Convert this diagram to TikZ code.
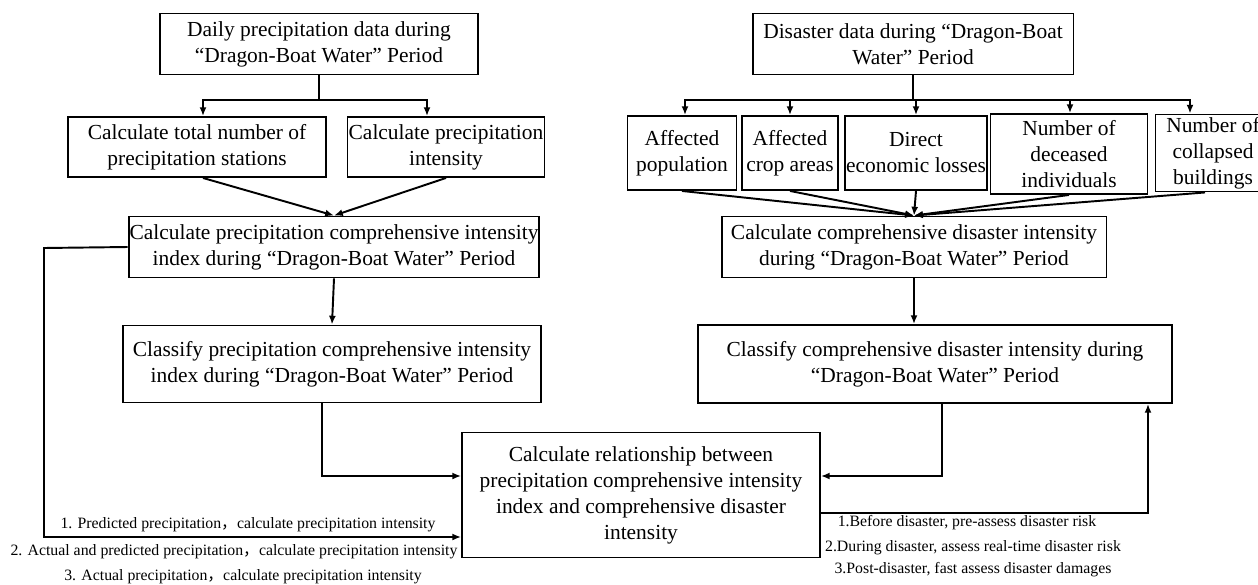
\documentclass[tikz,border=0pt]{standalone}
\usepackage{fontspec}
\setmainfont{Liberation Serif}
\newfontfamily\cjk{Noto Sans CJK SC}
\usetikzlibrary{arrows.meta,calc,positioning}
\newcommand{\fwc}{{\cjk ，}}

\begin{document}
\begin{tikzpicture}[x=0.02cm,y=-0.02cm,>={Latex[length=5pt,width=4pt]},
  box/.style={draw,line width=1.1pt,align=center,inner sep=0.5pt,
              font=\fontsize{12.2}{14.8}\selectfont},
  lnk/.style={line width=1.1pt},
  note/.style={font=\fontsize{9}{10}\selectfont,inner sep=0pt}]
  \useasboundingbox (0,0) rectangle (1258,585);
  % precipitation side
  \node[box,minimum width=6.36cm,minimum height=1.22cm] (dpd) at (319,44)
    {Daily precipitation data during\\“Dragon-Boat Water” Period};
  \node[box,minimum width=5.16cm,minimum height=1.2cm] (tot) at (197,147)
    {Calculate total number of\\precipitation stations};
  \node[box,minimum width=3.94cm,minimum height=1.2cm] (inten) at (446,147)
    {Calculate precipitation\\intensity};
  \node[box,minimum width=8.2cm,minimum height=1.22cm] (pci) at (334,247)
    {Calculate precipitation comprehensive intensity\\index during “Dragon-Boat Water” Period};
  \node[box,minimum width=8.36cm,minimum height=1.54cm] (cpci) at (332,364)
    {Classify precipitation comprehensive intensity\\index during “Dragon-Boat Water” Period};
  % relationship
  \node[box,minimum width=7.16cm,minimum height=2.5cm] (rel) at (641,495)
    {Calculate relationship between\\precipitation comprehensive intensity\\index and comprehensive disaster\\intensity};
  % disaster side
  \node[box,minimum width=6.42cm,minimum height=1.22cm] (dis) at (913,44)
    {Disaster data during “Dragon-Boat\\Water” Period};
  \node[box,minimum width=2.18cm,minimum height=1.48cm] (pop) at (682,153)
    {Affected\\population};
  \node[box,minimum width=1.92cm,minimum height=1.48cm] (crop) at (790,153)
    {Affected\\crop areas};
  \node[box,minimum width=2.84cm,minimum height=1.48cm] (eco) at (916,153)
    {Direct\\economic losses};
  \node[box,minimum width=3.14cm,minimum height=1.6cm] (dead) at (1069,154)
    {Number of\\deceased\\individuals};
  \node[box,minimum width=2.3cm,minimum height=1.54cm] (bld) at (1213,153)
    {Number of\\collapsed\\buildings};
  \node[box,minimum width=7.7cm,minimum height=1.22cm] (cdi) at (914,247)
    {Calculate comprehensive disaster intensity\\during “Dragon-Boat Water” Period};
  \node[box,minimum width=9.5cm,minimum height=1.56cm] (ccdi) at (935,364)
    {Classify comprehensive disaster intensity during\\“Dragon-Boat Water” Period};

  % branches from the data boxes
  \coordinate (brP) at (319,100);
  \coordinate (brD) at (913,100);
  \draw[lnk] (dpd.south) -- (brP);
  \draw[lnk,->] (brP) -| ($(tot.north)+(6,0)$);
  \draw[lnk,->] (brP) -| ($(inten.north)+(-19,0)$);
  \draw[lnk] (dis.south) -- (brD);
  \draw[lnk,->] (brD) -| ($(pop.north)+(3,0)$);
  \draw[lnk,->] (brD) -| (crop.north);
  \draw[lnk,->] (brD) -| (eco.north);
  \draw[lnk,->] (brD) -| ($(dead.north)+(1,0)$);
  \draw[lnk,->] (brD) -| ($(bld.north)+(-23,0)$);
  % merging arrows
  \draw[lnk,->] ($(tot.south)+(6,0)$) -- (pci.north);
  \draw[lnk,->] (inten.south) -- (pci.north);
  \foreach \src in {pop,crop,eco,dead}
    \draw[lnk,->] (\src.south) -- (cdi.north);
  \draw[lnk,->] ($(bld.south)+(-8,0)$) -- (cdi.north);
  \draw[lnk,->] (pci.south) -- (cpci.north);
  \draw[lnk,->] (cdi.south) -- (cdi.south |- ccdi.north);
  % into the relationship box
  \draw[lnk,->] ($(cpci.south)+(-10,0)$) |- (rel.west |- 0,476);
  \draw[lnk,->] ($(ccdi.south)+(7,0)$) |- (rel.east |- 0,476);
  \coordinate (lftC) at (44,248);
  \draw[lnk,->] (pci.west) -- (lftC) |- (rel.west |- 0,537);
  \coordinate (rgtC) at (1148,513);
  \draw[lnk,->] (rel.east |- rgtC) -- (rgtC) -- (rgtC |- ccdi.south);

  % notes
  \node[note] (ln1) at (248,525) {1. Predicted precipitation\fwc calculate precipitation intensity};
  \node[note] (ln2) at (234,552) {2. Actual and predicted precipitation\fwc calculate precipitation intensity};
  \node[note] (ln3) at (243,577) {3. Actual precipitation\fwc calculate precipitation intensity};
  \node[note] (rn1) at (967,523) {1.Before disaster, pre-assess disaster risk};
  \node[note] (rn2) at (973,548) {2.During disaster, assess real-time disaster risk};
  \node[note] (rn3) at (973,570) {3.Post-disaster, fast assess disaster damages};
\end{tikzpicture}
\end{document}
